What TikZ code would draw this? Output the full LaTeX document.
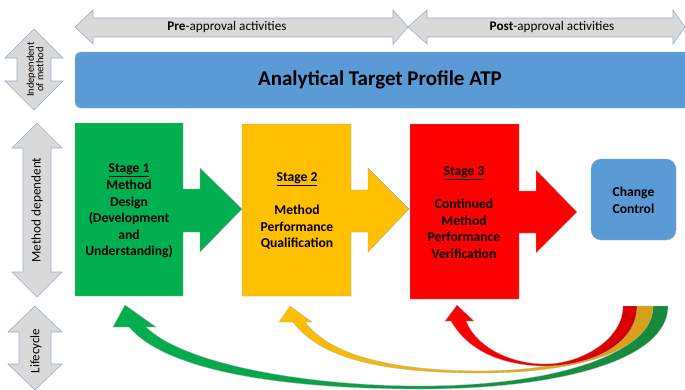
\documentclass[tikz,border=0pt]{standalone}
\usepackage{fontspec}
\setmainfont{Carlito}
\begin{document}
\begin{tikzpicture}[x=1pt,y=-1pt,
  greyarrow/.style={fill=arrowgrey, draw=arrowedge, line width=0.6pt, line join=miter},
  stageshape/.style={draw=black!35, line width=0.4pt},
  stagetext/.style={align=center, font=\fontsize{13.6}{16.6}\selectfont\bfseries, inner sep=0pt},
  curvearrow/.style={draw=black!30, line width=0.3pt},
  sidetext/.style={rotate=90, align=center, inner sep=0pt}]
\definecolor{arrowgrey}{HTML}{D9D9D9}
\definecolor{arrowedge}{HTML}{98AFC7}
\definecolor{atpblue}{HTML}{5B9BD5}
\definecolor{stgreen}{HTML}{00B050}
\definecolor{styellow}{HTML}{FFC000}
\definecolor{stred}{HTML}{FF0000}
\definecolor{dkgreen}{HTML}{15893C}
\definecolor{dkyellow}{HTML}{D4A017}
\definecolor{dkred}{HTML}{D40000}
\useasboundingbox (0,0) rectangle (685,389);
\clip (0,0) rectangle (685,389);
\fill[white] (0,0) rectangle (685,389);

% top double arrows
\path[greyarrow] (75,27) -- (93,10) -- (93,18) -- (393,18) -- (393,10) -- (408,27)
  -- (393,44) -- (393,37) -- (93,37) -- (93,44) -- cycle;
\path[greyarrow] (408,27) -- (427,10) -- (427,18) -- (673,18) -- (673,10) -- (685,27)
  -- (673,44) -- (673,37) -- (427,37) -- (427,44) -- cycle;
\node[font=\fontsize{13.2}{15}\selectfont] (pre) at (227,27) {\textbf{Pre}-approval activities};
\node[font=\fontsize{13.2}{15}\selectfont] (post) at (552,27) {\textbf{Post}-approval activities};

% vertical double arrows
\path[greyarrow] (34,29) -- (63,58) -- (51,58) -- (51,81) -- (63,81) -- (34,110)
  -- (5,81) -- (17,81) -- (17,58) -- (5,58) -- cycle;
\node[sidetext, font=\fontsize{10.5}{9.5}\selectfont] (indep) at (35,69.5) {Independent\\of method};
\path[greyarrow] (37,123) -- (62,148) -- (51,148) -- (51,272) -- (62,272) -- (37,297)
  -- (12,272) -- (23,272) -- (23,148) -- (12,148) -- cycle;
\node[sidetext, font=\fontsize{13.2}{15}\selectfont] (mdep) at (37,210) {Method dependent};
\path[greyarrow] (35,306) -- (62,332) -- (51,332) -- (51,364) -- (62,364) -- (35,390)
  -- (8,364) -- (19,364) -- (19,332) -- (8,332) -- cycle;
\node[sidetext, font=\fontsize{13}{15}\selectfont] (life) at (36,351) {Lifecycle};

% ATP bar
\node[fill=atpblue, draw=atpblue!80!black!60, line width=0.3pt, rounded corners=6pt, minimum width=616pt, minimum height=56pt, inner sep=0pt] (atp) at (383,80) {};
\node[font=\fontsize{21}{24}\selectfont\bfseries] (atptext) at (380,80) {Analytical Target Profile ATP};

% stages
\path[stageshape, fill=stgreen] (75,123) -- (183,123) -- (183,189) -- (200,189) -- (200,168) -- (242,209)
  -- (200,252) -- (200,232) -- (183,232) -- (183,296) -- (75,296) -- cycle;
\node[stagetext] (s1) at (129,211) {\underline{Stage 1}\\Method\\Design\\(Development\\and\\Understanding)};

\path[stageshape, fill=styellow] (242,124) -- (351,124) -- (351,190) -- (368,190) -- (368,168) -- (409,209)
  -- (368,252) -- (368,232) -- (351,232) -- (351,296) -- (242,296) -- cycle;
\node[stagetext] (s2) at (297,211) {\underline{Stage 2}\\[16.6pt]Method\\Performance\\Qualification};

\path[stageshape, fill=stred] (410,124) -- (519,124) -- (519,191) -- (536,191) -- (536,170) -- (577,212)
  -- (536,253) -- (536,233) -- (519,233) -- (519,299) -- (410,299) -- cycle;
\node[stagetext] (s3) at (464,212.5) {\underline{Stage 3}\\[16.6pt]Continued\\Method\\Performance\\Verification};

% change control
\node[fill=atpblue, draw=atpblue!80!black!60, line width=0.3pt, rounded corners=10pt, minimum width=85pt, minimum height=81pt, inner sep=0pt] (cc) at (633.5,199.5) {};
\node[stagetext] (cctext) at (633.5,200) {Change\\Control};

% curved lifecycle arrows
\path[curvearrow, left color=stgreen, right color=dkgreen]
  (129,327) .. controls (170,375) and (300,389) .. (420,389)
  .. controls (560,389) and (668,360) .. (668,306) -- (653,306)
  .. controls (653,352) and (560,386) .. (420,386)
  .. controls (310,386) and (185,365) .. (146,327)
  -- (156,327) -- (125,305) -- (113,327) -- cycle;
\path[curvearrow, left color=styellow, right color=dkyellow]
  (293,322) .. controls (320,358) and (380,373) .. (480,373)
  .. controls (580,373) and (653,350) .. (653,306) -- (637,306)
  .. controls (637,345) and (580,370.5) .. (480,371)
  .. controls (390,370.5) and (330,355) .. (305,322)
  -- (312,322) -- (290,306) -- (279,322) -- cycle;
\path[curvearrow, left color=stred, right color=dkred]
  (451,321) .. controls (470,355) and (510,366) .. (545,366)
  .. controls (590,366) and (637,345) .. (637,306) -- (623,306)
  .. controls (623,340) and (580,364) .. (545,364)
  .. controls (515,364) and (478,350) .. (466,321)
  -- (474,321) -- (457,305) -- (445,321) -- cycle;
\end{tikzpicture}
\end{document}
